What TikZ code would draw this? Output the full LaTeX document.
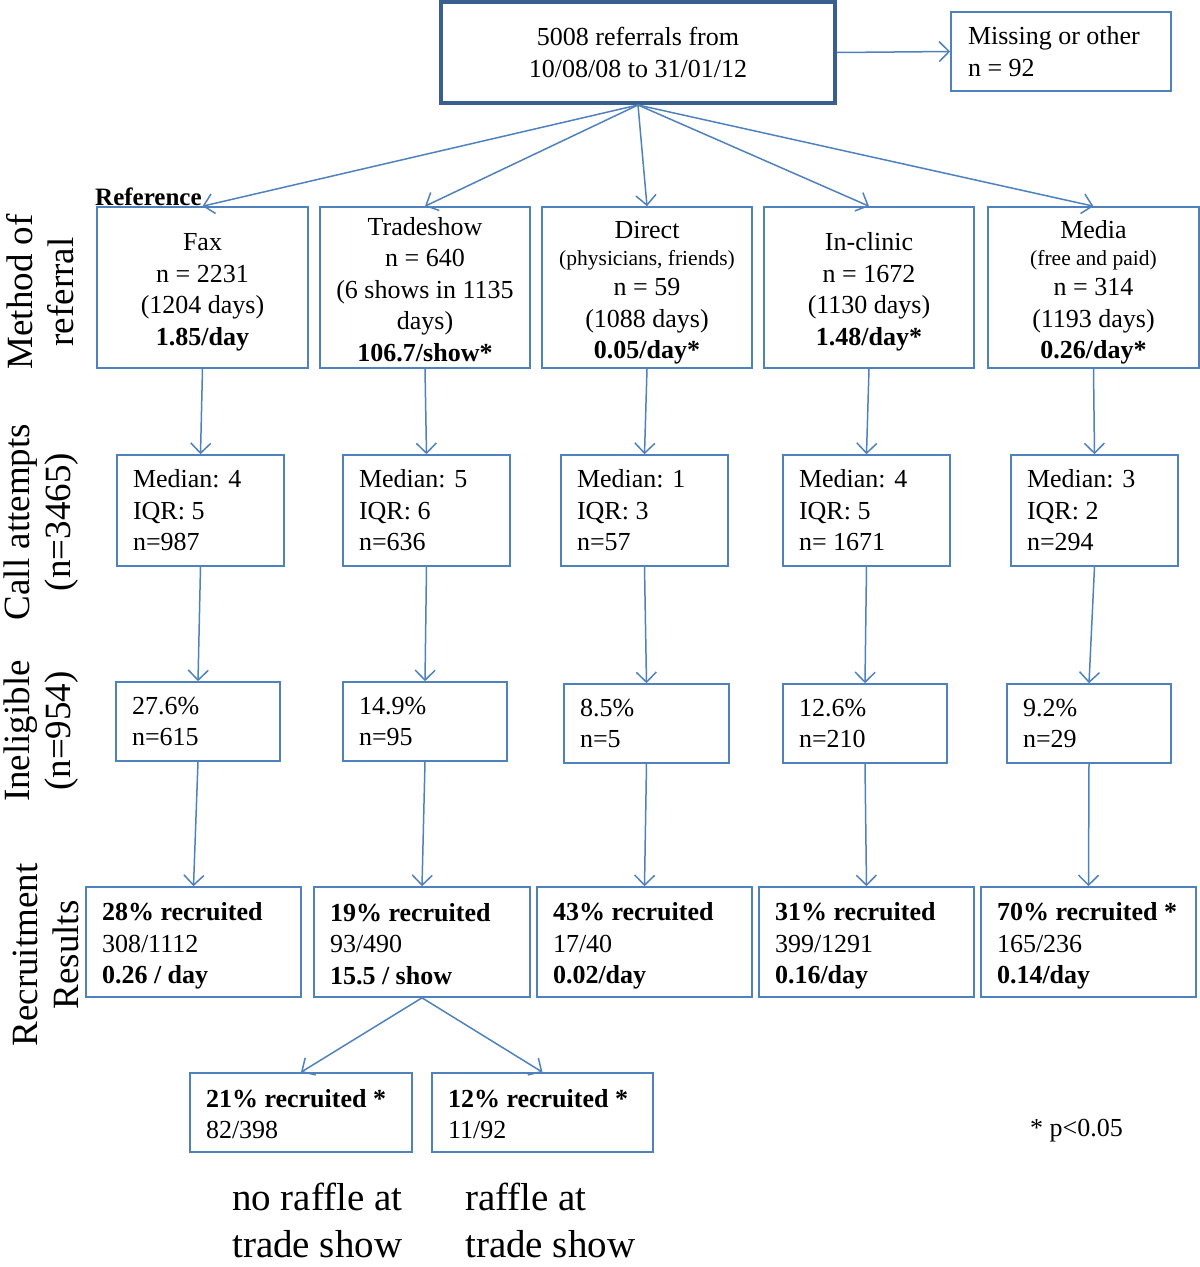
\documentclass[tikz,border=0pt]{standalone}
\usepackage{fontspec}
\setmainfont{Liberation Serif}
\usetikzlibrary{arrows.meta}
\definecolor{bl}{HTML}{4F81BD}
\definecolor{dbl}{HTML}{3A5F8F}
\newcommand{\smtext}{\fontsize{21.5}{25}\selectfont}
\newcommand{\topstrut}[1]{\rule{0pt}{#1pt}}
\begin{document}
\begin{tikzpicture}[x=1pt,y=-1pt,
 box/.style={draw=bl, line width=1.6pt, fill=white, inner ysep=0pt, font=\fontsize{26}{31.5}\selectfont},
 cbox/.style={box, align=flush center, inner xsep=2pt},
 lbox/.style={box, align=flush left, inner xsep=16pt},
 arr/.style={draw=bl, line width=1.5pt, -{Straight Barb[length=10pt,width=20pt,line width=1.5pt]}},
 side/.style={rotate=90, align=center, font=\fontsize{37}{41}\selectfont, inner sep=0pt},
 plain/.style={inner sep=0pt, font=\fontsize{26}{31.5}\selectfont},
 big/.style={inner sep=0pt, align=left, font=\fontsize{39}{47}\selectfont},
]
\useasboundingbox (0,0) rectangle (1200,1267);

% top
\node[box, draw=dbl, line width=4pt, align=center, minimum width=394pt, minimum height=101pt] (top) at (638,52.5) {5008 referrals from\\10/08/08 to 31/01/12};
\node[box, align=flush left, inner xsep=17pt, minimum width=220pt, minimum height=79pt, text width=186pt] (miss) at (1061,51.5) {Missing or other\\n = 92};

% row 1
\node[cbox, minimum width=211pt, minimum height=161pt, text width=207pt] (fax1) at (202.5,287.5) {\topstrut{27}Fax\\n = 2231\\(1204 days)\\\textbf{1.85/day}};
\node[cbox, minimum width=210pt, minimum height=161pt, text width=206pt] (tr1) at (425,287.5) {\topstrut{22}Tradeshow\\n = 640\\(6 shows in 1135\\days)\\\textbf{106.7/show*}};
\node[cbox, minimum width=210pt, minimum height=161pt, text width=206pt] (di1) at (647,287.5) {\topstrut{28}Direct\\[-4.5pt]{\smtext (physicians, friends)}\\[-1.5pt]n = 59\\(1088 days)\\\textbf{0.05/day*}};
\node[cbox, minimum width=210pt, minimum height=161pt, text width=206pt] (in1) at (869,287.5) {\topstrut{27}In-clinic\\n = 1672\\(1130 days)\\\textbf{1.48/day*}};
\node[cbox, minimum width=211pt, minimum height=161pt, text width=207pt] (me1) at (1093.5,287.5) {\topstrut{28}Media\\[-4.5pt]{\smtext (free and paid)}\\[-1.5pt]n = 314\\(1193 days)\\\textbf{0.26/day*}};

\node[anchor=base west, inner sep=0pt, font=\fontsize{25}{30}\selectfont\bfseries] (ref) at (95,205) {Reference};

% row 2
\node[lbox, minimum width=167pt, minimum height=111pt, text width=135pt] (fax2) at (200.5,510.5) {Median: 4\\IQR: 5\\n=987};
\node[lbox, minimum width=167pt, minimum height=111pt, text width=135pt] (tr2) at (426.5,510.5) {Median: 5\\IQR: 6\\n=636};
\node[lbox, minimum width=167pt, minimum height=111pt, text width=135pt] (di2) at (644.5,510.5) {Median: 1\\IQR: 3\\n=57};
\node[lbox, minimum width=167pt, minimum height=111pt, text width=135pt] (in2) at (866.5,510.5) {Median: 4\\IQR: 5\\n= 1671};
\node[lbox, minimum width=167pt, minimum height=111pt, text width=135pt] (me2) at (1094.5,510.5) {Median: 3\\IQR: 2\\n=294};

% row 3
\node[lbox, minimum width=164pt, minimum height=79pt, text width=132pt] (fax3) at (198,721.5) {27.6\%\\n=615};
\node[lbox, minimum width=164pt, minimum height=79pt, text width=132pt] (tr3) at (425,721.5) {14.9\%\\n=95};
\node[lbox, minimum width=165pt, minimum height=79pt, text width=133pt] (di3) at (646.5,723.5) {8.5\%\\n=5};
\node[lbox, minimum width=164pt, minimum height=79pt, text width=132pt] (in3) at (865,723.5) {12.6\%\\n=210};
\node[lbox, minimum width=164pt, minimum height=79pt, text width=132pt] (me3) at (1089,723.5) {9.2\%\\n=29};

% row 4
\node[lbox, minimum width=215pt, minimum height=110pt, text width=183pt] (fax4) at (193.5,942) {\topstrut{26}\textbf{28\% recruited}\\308/1112\\\textbf{0.26 / day}};
\node[lbox, minimum width=216pt, minimum height=110pt, text width=184pt] (tr4) at (422,942) {\topstrut{22}\textbf{19\% recruited}\\93/490\\\textbf{15.5 / show}};
\node[lbox, minimum width=215pt, minimum height=110pt, text width=183pt] (di4) at (644.5,942) {\topstrut{26}\textbf{43\% recruited}\\17/40\\\textbf{0.02/day}};
\node[lbox, minimum width=215pt, minimum height=110pt, text width=183pt] (in4) at (866.5,942) {\topstrut{26}\textbf{31\% recruited}\\399/1291\\\textbf{0.16/day}};
\node[lbox, minimum width=215pt, minimum height=110pt, text width=183pt] (me4) at (1088.5,942) {\topstrut{26}\textbf{70\% recruited *}\\165/236\\\textbf{0.14/day}};

% row 5
\node[lbox, minimum width=222pt, minimum height=79pt, text width=190pt] (l5) at (301,1112.5) {\topstrut{21}\textbf{21\% recruited *}\\82/398};
\node[lbox, minimum width=221pt, minimum height=79pt, text width=189pt] (r5) at (542.5,1112.5) {\topstrut{21}\textbf{12\% recruited *}\\11/92};

% side labels
\node[side] (s1) at (40,292) {Method of\\referral};
\node[side] (s2) at (41,522) {Call attempts\\(n=3465)};
\node[side] (s3) at (41,731) {Ineligible\\(n=954)};
\node[side] (s4) at (46,955) {Recruitment\\Results};

% notes
\node[plain, anchor=west] (pv) at (1030,1131) {* p<0.05};
\node[big, anchor=west] (nr) at (232,1220) {no raffle at\\trade show};
\node[big, anchor=west] (ra) at (465,1220) {raffle at\\trade show};

% arrows
\draw[arr] (top.east) -- (miss.west);
\foreach \n in {fax1,tr1,di1,in1,me1} \draw[arr] (top.south) -- (\n.north);
\draw[arr] (fax1.south) -- (fax2.north);
\draw[arr] (tr1.south) -- (tr2.north);
\draw[arr] (di1.south) -- (di2.north);
\draw[arr] (in1.south) -- (in2.north);
\draw[arr] (me1.south) -- (me2.north);
\draw[arr] (fax2.south) -- (fax3.north);
\draw[arr] (tr2.south) -- (tr3.north);
\draw[arr] (di2.south) -- (di3.north);
\draw[arr] (in2.south) -- (in3.north);
\draw[arr] (me2.south) -- (me3.north);
\draw[arr] (fax3.south) -- (fax4.north);
\draw[arr] (tr3.south) -- (tr4.north);
\draw[arr] (di3.south) -- (di4.north);
\draw[arr] (in3.south) -- (in4.north);
\draw[arr] (me3.south) -- (me4.north);
\draw[arr] (tr4.south) -- (l5.north);
\draw[arr] (tr4.south) -- (r5.north);
\end{tikzpicture}
\end{document}
